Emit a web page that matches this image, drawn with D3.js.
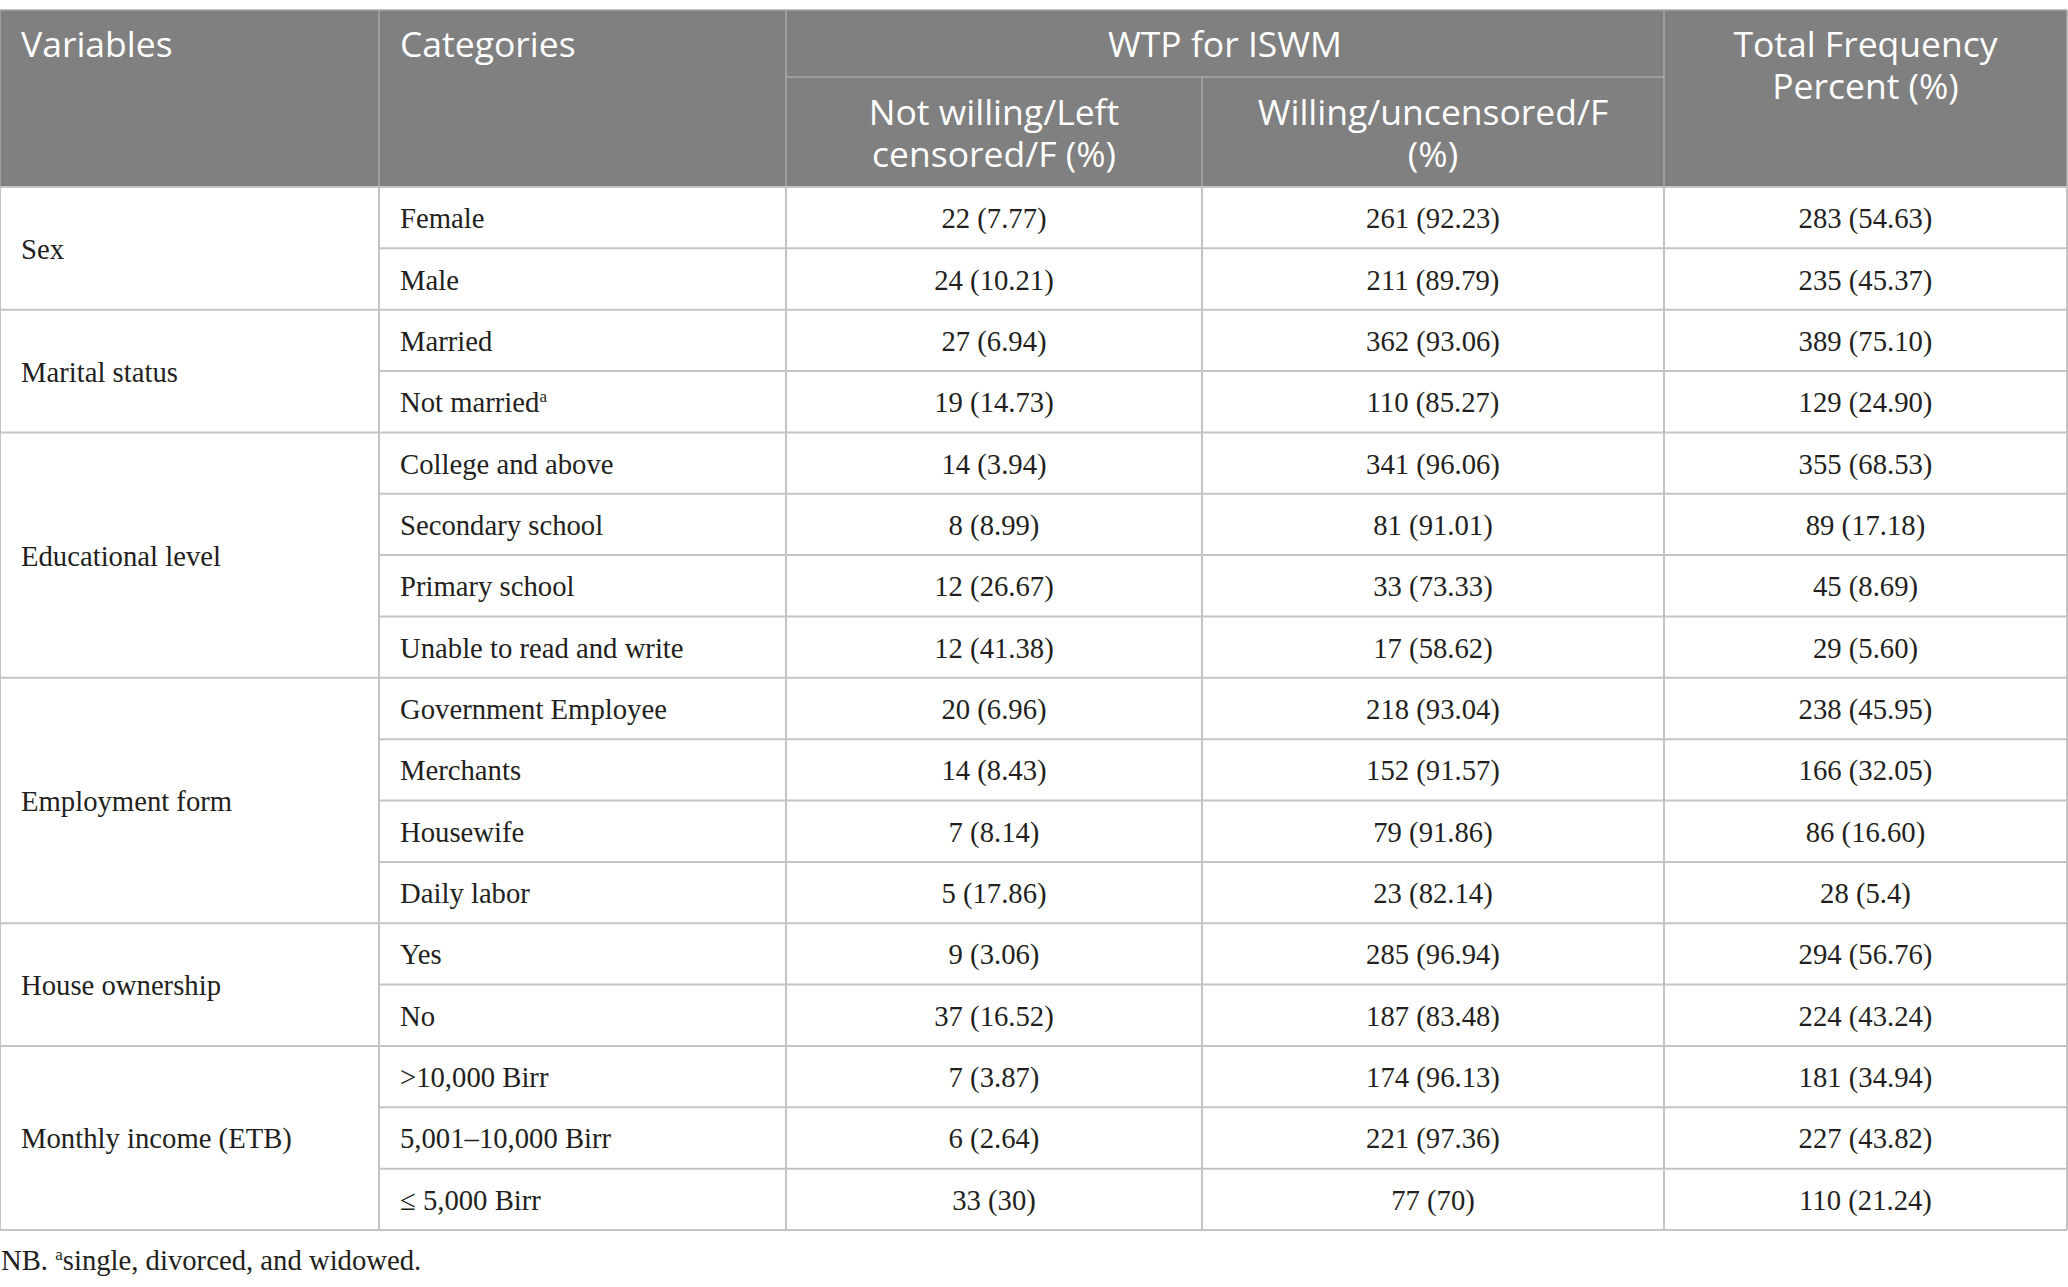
<!DOCTYPE html>
<html>
<head>
<meta charset="utf-8">
<script src="https://cdn.jsdelivr.net/npm/d3@7"></script>
<style>
html,body{margin:0;padding:0;background:#fff;}
svg{display:block;}
</style>
</head>
<body>
<svg id="chart" width="2068" height="1287"></svg>
<script>
// ---- data ----
const variables = ["Sex","Marital status","Educational level","Employment form","House ownership","Monthly income (ETB)"];
const variableSpans = [2,2,4,4,2,3];
const categories = ["Female","Male","Married","Not married","College and above","Secondary school","Primary school","Unable to read and write","Government Employee","Merchants","Housewife","Daily labor","Yes","No",">10,000 Birr","5,001\u201310,000 Birr","\u2264 5,000 Birr"];
const categorySup = ["","","","a","","","","","","","","","","","","",""];
const notWilling = ["22 (7.77)","24 (10.21)","27 (6.94)","19 (14.73)","14 (3.94)","8 (8.99)","12 (26.67)","12 (41.38)","20 (6.96)","14 (8.43)","7 (8.14)","5 (17.86)","9 (3.06)","37 (16.52)","7 (3.87)","6 (2.64)","33 (30)"];
const willing = ["261 (92.23)","211 (89.79)","362 (93.06)","110 (85.27)","341 (96.06)","81 (91.01)","33 (73.33)","17 (58.62)","218 (93.04)","152 (91.57)","79 (91.86)","23 (82.14)","285 (96.94)","187 (83.48)","174 (96.13)","221 (97.36)","77 (70)"];
const totals = ["283 (54.63)","235 (45.37)","389 (75.10)","129 (24.90)","355 (68.53)","89 (17.18)","45 (8.69)","29 (5.60)","238 (45.95)","166 (32.05)","86 (16.60)","28 (5.4)","294 (56.76)","224 (43.24)","181 (34.94)","227 (43.82)","110 (21.24)"];
const headerVariables = "Variables";
const headerCategories = "Categories";
const headerGroup = "WTP for ISWM";
const headerNotWilling = ["Not willing/Left","censored/F (%)"];
const headerWilling = ["Willing/uncensored/F","(%)"];
const headerTotal = ["Total Frequency","Percent (%)"];
const footnoteLead = "NB. ";
const footnoteSup = "a";
const footnoteText = "single, divorced, and widowed.";

// ---- layout ----
const colEdges = [0, 379, 786, 1202, 1664, 2067];
const tableTop = 10, subTop = 77, headTop = 187, tableBottom = 1230;
const nRows = categories.length;
const y = d3.scaleLinear().domain([0, nRows]).range([headTop, tableBottom]);
const x = d3.scaleOrdinal().domain([0,1,2,3,4,5]).range(colEdges);

const headFont = "'Open Sans', 'Noto Sans', sans-serif";
const bodyFont = "'Liberation Serif', 'DejaVu Serif', serif";
const headBg = "#808080";
const headLine = "#a9a9a9";
const bodyLine = "#c4c4c4";
const textColor = "#231f20";

const svg = d3.select("#chart");

// header background
svg.append("rect").attr("x", x(0)).attr("y", tableTop).attr("width", x(5) - x(0)).attr("height", headTop - tableTop).attr("fill", headBg);

// header lines
const hl = svg.append("g").attr("stroke", headLine).attr("stroke-width", 1.5);
hl.append("line").attr("x1", x(0)).attr("x2", x(5)).attr("y1", tableTop).attr("y2", tableTop);
hl.append("line").attr("x1", x(2)).attr("x2", x(4)).attr("y1", subTop).attr("y2", subTop);
[0,1,2,4,5].forEach(i => hl.append("line").attr("x1", x(i)).attr("x2", x(i)).attr("y1", tableTop).attr("y2", headTop));
hl.append("line").attr("x1", x(3)).attr("x2", x(3)).attr("y1", subTop).attr("y2", headTop);

// header text
const ht = svg.append("g").attr("fill", "#ffffff").attr("font-family", headFont).attr("font-size", 35.5).attr("font-weight", 400);
ht.append("text").attr("x", x(0) + 21).attr("y", 57).text(headerVariables);
ht.append("text").attr("x", x(1) + 21).attr("y", 57).text(headerCategories);
ht.append("text").attr("x", (x(2) + x(4)) / 2).attr("y", 57).attr("text-anchor", "middle").text(headerGroup);
function multiline(lines, cx, y0) {
  const t = ht.append("text").attr("text-anchor", "middle").attr("x", cx).attr("y", y0);
  lines.forEach((s, i) => t.append("tspan").attr("x", cx).attr("dy", i === 0 ? 0 : 42).text(s));
}
multiline(headerNotWilling, (x(2) + x(3)) / 2, 125);
multiline(headerWilling, (x(3) + x(4)) / 2, 125);
multiline(headerTotal, (x(4) + x(5)) / 2, 57);

// body lines
const bl = svg.append("g").attr("stroke", bodyLine).attr("stroke-width", 2);
const groupStarts = [];
let acc = 0;
variableSpans.forEach(s => { groupStarts.push(acc); acc += s; });
d3.range(0, nRows + 1).forEach(r => {
  const isGroup = r === nRows || groupStarts.includes(r);
  bl.append("line").attr("x1", isGroup ? x(0) : x(1)).attr("x2", x(5)).attr("y1", y(r)).attr("y2", y(r));
});
[0,1,2,3,4,5].forEach(i => bl.append("line").attr("x1", x(i)).attr("x2", x(i)).attr("y1", headTop).attr("y2", tableBottom));

// body text
const bt = svg.append("g").attr("fill", textColor).attr("font-family", bodyFont).attr("font-size", 28.7);
variables.forEach((v, i) => {
  const cy = (y(groupStarts[i]) + y(groupStarts[i] + variableSpans[i])) / 2;
  bt.append("text").attr("x", x(0) + 21).attr("y", cy + 10.5).text(v);
});
categories.forEach((c, r) => {
  const by = (y(r) + y(r + 1)) / 2 + 10.5;
  const t = bt.append("text").attr("x", x(1) + 21).attr("y", by);
  t.append("tspan").text(c);
  if (categorySup[r]) t.append("tspan").attr("font-size", 17).attr("dy", -10).text(categorySup[r]);
  bt.append("text").attr("x", (x(2) + x(3)) / 2).attr("y", by).attr("text-anchor", "middle").text(notWilling[r]);
  bt.append("text").attr("x", (x(3) + x(4)) / 2).attr("y", by).attr("text-anchor", "middle").text(willing[r]);
  bt.append("text").attr("x", (x(4) + x(5)) / 2).attr("y", by).attr("text-anchor", "middle").text(totals[r]);
});

// footnote
const fn = svg.append("text").attr("x", 1).attr("y", 1270).attr("fill", textColor).attr("font-family", bodyFont).attr("font-size", 28.7);
fn.append("tspan").text(footnoteLead);
fn.append("tspan").attr("font-size", 17).attr("dy", -10).text(footnoteSup);
fn.append("tspan").attr("dy", 10).text(footnoteText);
</script>
</body>
</html>
